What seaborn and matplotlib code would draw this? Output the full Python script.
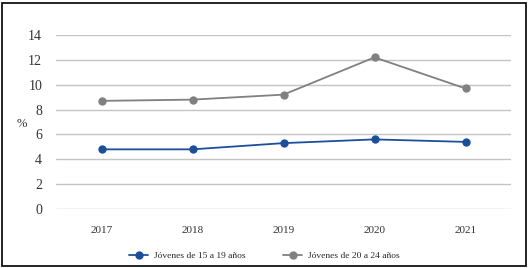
import matplotlib
matplotlib.use("Agg")
import matplotlib.pyplot as plt
import seaborn as sns
import pandas as pd
from matplotlib.patches import Rectangle

# data
years = ["2017", "2018", "2019", "2020", "2021"]
jovenes_15_19 = [4.8, 4.8, 5.3, 5.6, 5.4]
jovenes_20_24 = [8.7, 8.8, 9.2, 12.2, 9.7]
series_names = ["Jóvenes de 15 a 19 años", "Jóvenes de 20 a 24 años"]
yticks = [0, 2, 4, 6, 8, 10, 12, 14]

df = pd.DataFrame({
    "year": years * 2,
    "value": jovenes_15_19 + jovenes_20_24,
    "serie": [series_names[0]] * len(years) + [series_names[1]] * len(years),
})

sns.set_theme(style="white")
plt.rcParams["font.family"] = ["Liberation Serif", "DejaVu Serif"]

fig = plt.figure(figsize=(5.29, 2.68), dpi=100)
ax = fig.add_axes([56 / 529, 1 - 209 / 268, 455 / 529, 174 / 268])

palette = {series_names[0]: "#1b4f9c", series_names[1]: "#808080"}
sns.lineplot(data=df, x="year", y="value", hue="serie", palette=palette,
             marker="o", markersize=6, markeredgewidth=0, linewidth=1.3,
             ax=ax, sort=False)

ax.set_xlim(-0.5, len(years) - 0.5)
ax.set_ylim(0, 14)
ax.set_yticks(yticks)
ax.yaxis.grid(True, color="#c4c4c4", linewidth=1)
ax.set_axisbelow(True)
for s in ax.spines.values():
    s.set_visible(False)
ax.tick_params(axis="y", labelsize=10, pad=10, length=0, colors="#333333")
ax.tick_params(axis="x", labelsize=8, pad=12, length=0, colors="#333333")
ax.set_xlabel("")
ax.set_ylabel("%", rotation=0, fontsize=9, color="#333333", va="center")
ax.yaxis.set_label_coords(-0.075, 0.49)

ax.legend(loc="center", bbox_to_anchor=(0.458, -0.27), ncol=2, frameon=False,
          fontsize=6.8, handlelength=2.0, handletextpad=0.6, columnspacing=4.0,
          borderaxespad=0)

fig.patches.append(Rectangle((2 / 529, 2 / 268), 524 / 529, 263 / 268,
                             transform=fig.transFigure, fill=False,
                             edgecolor="black", linewidth=1.2))

fig.savefig("out.png", dpi=100)
